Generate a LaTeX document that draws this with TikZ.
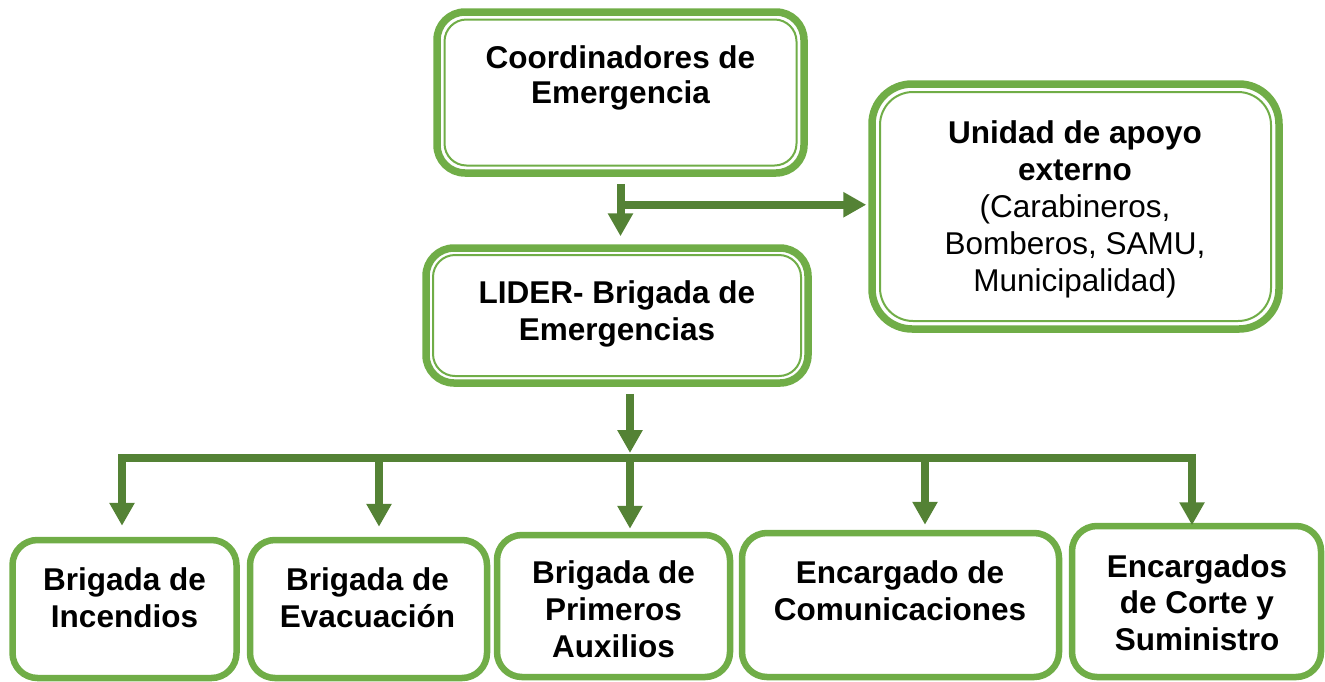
\documentclass[tikz,border=0pt]{standalone}
\usepackage{fontspec}
\setmainfont{Liberation Sans}
\usetikzlibrary{arrows.meta,calc}
\definecolor{boxgreen}{HTML}{70AD47}
\definecolor{conngreen}{HTML}{548235}
\begin{document}
\begin{tikzpicture}[x=1pt,y=-1pt,
  dbox/.style={draw=boxgreen, line width=7.5pt, rounded corners=28pt, rectangle, inner sep=0pt, fill=white},
  innerbox/.style={draw=boxgreen, line width=2pt, rounded corners=22pt, rectangle, inner sep=0pt},
  sbox/.style={draw=boxgreen, line width=6.5pt, rounded corners=25pt, rectangle, inner sep=0pt, fill=white},
  txt/.style={inner sep=0pt, anchor=base, font=\fontsize{31.5}{36.8}\selectfont},
  arr/.style={draw=conngreen, line width=8pt, miter limit=10, -{Triangle[length=23pt,width=24pt]}}
]
\useasboundingbox (0,0) rectangle (1325,681);

% double-bordered boxes
\node[dbox, minimum width=367pt, minimum height=161pt] (coord) at (620.5,92.5) {};
\node[innerbox, minimum width=352pt, minimum height=146pt] (coordI) at (coord.center) {};
\node[dbox, minimum width=407pt, minimum height=245pt, rounded corners=40pt] (unidad) at (1075.5,206.5) {};
\node[innerbox, minimum width=391pt, minimum height=229pt, rounded corners=33pt] (unidadI) at (unidad.center) {};
\node[dbox, minimum width=382pt, minimum height=135pt] (lider) at (617,315.5) {};
\node[innerbox, minimum width=368pt, minimum height=121pt] (liderI) at (lider.center) {};

% bottom boxes
\node[sbox, minimum width=224pt, minimum height=138pt] (b1) at (124.5,609) {};
\node[sbox, minimum width=237pt, minimum height=138pt] (b2) at (368.5,609) {};
\node[sbox, minimum width=233pt, minimum height=142pt] (b3) at (613.5,606) {};
\node[sbox, minimum width=317pt, minimum height=144pt] (b4) at (900.5,605) {};
\node[sbox, minimum width=249pt, minimum height=151pt] (b5) at (1196.5,601.5) {};

% texts
\node[txt, font=\bfseries\fontsize{31.5}{35}\selectfont] (coordT) at (620.5,68) {\begin{tabular}[t]{@{}c@{}}Coordinadores de\\Emergencia\end{tabular}};
\node[txt, font=\fontsize{31.5}{37.2}\selectfont] (unidadT) at (1075,143) {\begin{tabular}[t]{@{}c@{}}\textbf{Unidad de apoyo}\\\textbf{externo}\\(Carabineros,\\Bomberos, SAMU,\\Municipalidad)\end{tabular}};
\node[txt, font=\bfseries\fontsize{31.5}{37}\selectfont] (liderT) at (617,303) {\begin{tabular}[t]{@{}c@{}}LIDER- Brigada de\\Emergencias\end{tabular}};
\node[txt, font=\bfseries\fontsize{31.5}{37}\selectfont] (b1T) at (124.5,590) {\begin{tabular}[t]{@{}c@{}}Brigada de\\Incendios\end{tabular}};
\node[txt, font=\bfseries\fontsize{31.5}{37}\selectfont] (b2T) at (367.5,590) {\begin{tabular}[t]{@{}c@{}}Brigada de\\Evacuación\end{tabular}};
\node[txt, font=\bfseries\fontsize{31.5}{37}\selectfont] (b3T) at (613.5,583) {\begin{tabular}[t]{@{}c@{}}Brigada de\\Primeros\\Auxilios\end{tabular}};
\node[txt, font=\bfseries\fontsize{31.5}{37}\selectfont] (b4T) at (900,583) {\begin{tabular}[t]{@{}c@{}}Encargado de\\Comunicaciones\end{tabular}};
\node[txt, font=\bfseries\fontsize{31.5}{36.5}\selectfont] (b5T) at (1197,577) {\begin{tabular}[t]{@{}c@{}}Encargados\\de Corte y\\Suministro\end{tabular}};

% connectors
\draw[arr, shorten <=7pt, shorten >=8pt] (coord.south) -- (coord.south |- lider.north);
\coordinate (h) at ($(coord.south)+(0,28)$);
\draw[arr, shorten >=2pt] (h) -- (h -| unidad.west);
\coordinate (bus) at (630,458);
\draw[arr, shorten <=7pt, shorten >=5pt] (lider.south -| bus) -- (bus);
\draw[arr] (bus) -| ([xshift=-2.5pt, yshift=11pt]b1.north);
\draw[arr] (bus) -| ([xshift=10.5pt, yshift=10pt]b2.north);
\draw[arr] (bus) -- ([xshift=16.5pt, yshift=3pt]b3.north);
\draw[arr] (bus) -| ([xshift=24.5pt, yshift=5pt]b4.north);
\draw[arr] (bus) -| ([xshift=-4.5pt, yshift=-2.5pt]b5.north);
\end{tikzpicture}
\end{document}
